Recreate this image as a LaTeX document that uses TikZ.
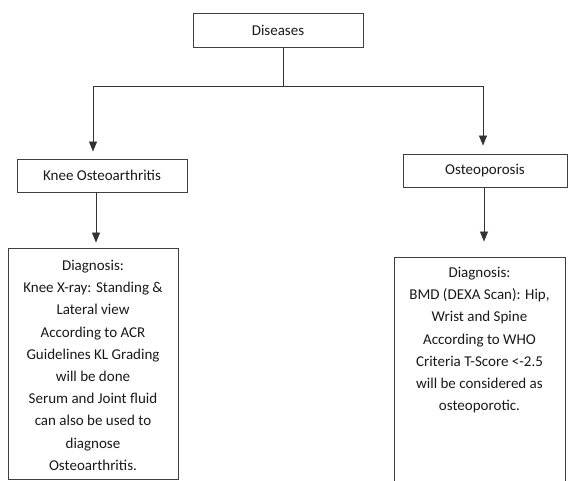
\documentclass[tikz,border=0pt]{standalone}
\usepackage{fontspec}
\setmainfont{Carlito}
\usetikzlibrary{arrows.meta}
\begin{document}
\begin{tikzpicture}[x=1pt,y=-1pt,
  box/.style={draw=black!75, line width=0.9pt, rectangle, inner sep=0pt},
  lbl/.style={text=black!90, font=\fontsize{15}{22.2}\selectfont, align=center, inner sep=0pt},
  conn/.style={draw=black!80, line width=0.9pt},
  arr/.style={conn, -{Triangle[width=8pt,length=10pt]}}]
\useasboundingbox (0,0) rectangle (568,481);
\node[box, lbl, minimum width=170pt, minimum height=34pt] (dis) at (278,30) {Diseases};
\node[box, lbl, minimum width=170pt, minimum height=33pt] (knee) at (102,175.5) {Knee Osteoarthritis};
\node[box, lbl, minimum width=164pt, minimum height=33pt] (osteo) at (485,170.5) {Osteoporosis};
\node[box, minimum width=170pt, minimum height=231pt] (diagA) at (93,363.5) {};
\node[box, minimum width=171pt, minimum height=240pt] (diagB) at (479.5,377) {};
\node[lbl, anchor=north] (diagAtext) at (93,260) {Diagnosis:\\Knee X-ray: Standing \&\\Lateral view\\According to ACR\\Guidelines KL Grading\\will be done\\Serum and Joint fluid\\can also be used to\\diagnose\\Osteoarthritis.};
\node[lbl, anchor=north] (diagBtext) at (479.5,267) {Diagnosis:\\BMD (DEXA Scan): Hip,\\Wrist and Spine\\According to WHO\\Criteria T-Score <-2.5\\will be considered as\\osteoporotic.};
\coordinate (j) at (283,86);
\draw[conn] (dis.south -| j) -- (j);
\draw[arr, shorten >=7pt] (j) -| ([xshift=-9pt]knee.north);
\draw[arr, shorten >=8pt] (j) -| ([xshift=-2pt]osteo.north);
\draw[arr, shorten >=5pt] ([xshift=-6pt]knee.south) -- ([xshift=3pt]diagA.north);
\draw[arr, shorten >=15pt] ([xshift=-1pt]osteo.south) -- ([xshift=4.5pt]diagB.north);
\end{tikzpicture}
\end{document}
